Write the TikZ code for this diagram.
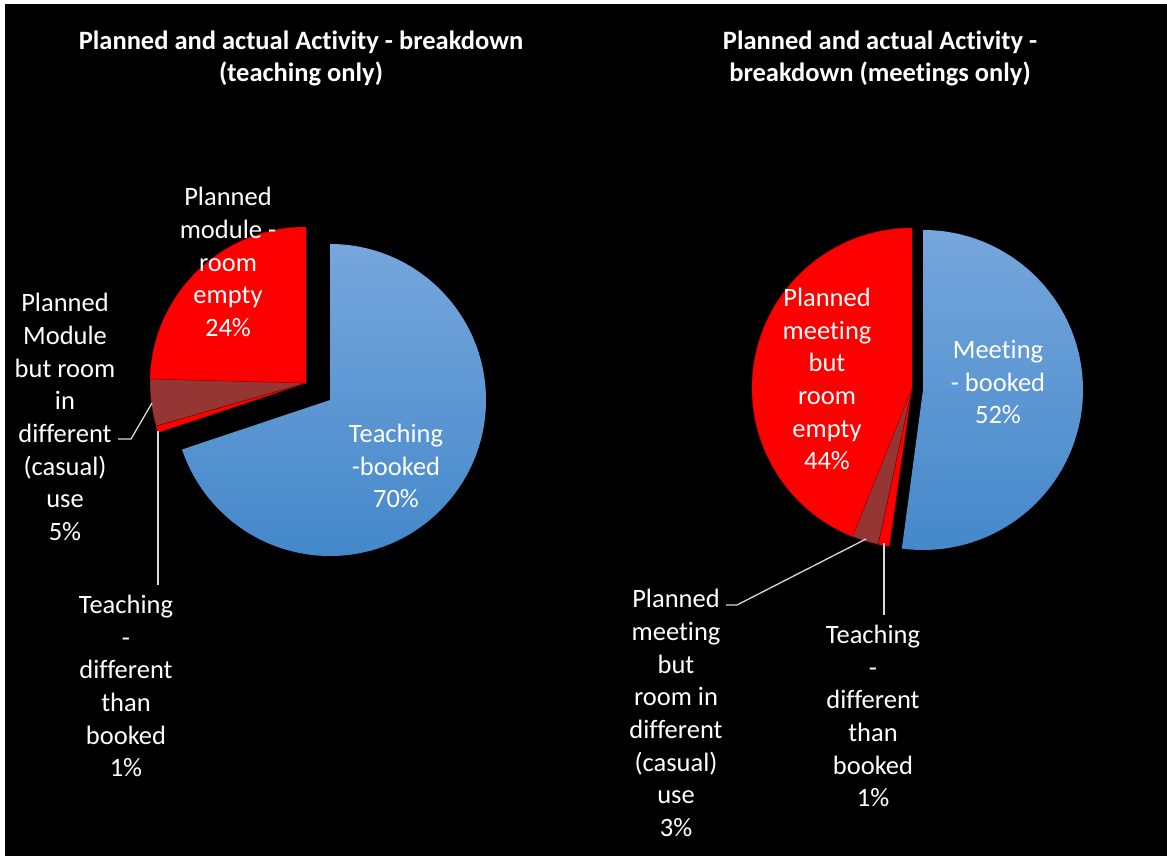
\documentclass[tikz,border=0pt]{standalone}
\usepackage{fontspec}
\setmainfont[Ligatures=NoCommon]{Carlito}
\definecolor{bluetop}{RGB}{118,166,220}
\definecolor{bluebot}{RGB}{68,136,202}
\definecolor{pred}{RGB}{255,0,0}
\definecolor{dred}{RGB}{150,54,52}
\definecolor{leader}{RGB}{217,217,217}
\newcommand{\pieslice}[5]{% center, radius, visual start angle, visual end angle, style
  \path[#5] (#1) -- ++(-#3:#2) arc[start angle=-#3, end angle=-#4, radius=#2] -- cycle;}
\tikzset{
  lbl/.style={text=white, align=center, font=\fontsize{26.5}{32.7}\selectfont, inner sep=0pt},
  ttl/.style={text=white, align=center, font=\fontsize{26.5}{32}\selectfont\bfseries, inner sep=0pt},
  bluesl/.style={top color=bluetop, bottom color=bluebot, draw=none},
  redsl/.style={fill=pred, draw=red!75!black, line width=0.4pt},
  darksl/.style={fill=dred, draw=red!40!black, line width=0.4pt},
  leaderln/.style={draw=leader, line width=1.3pt},
}
\begin{document}
\begin{tikzpicture}[x=1pt,y=-1pt]
\useasboundingbox (0,0) rectangle (1167,858);
\fill[white] (0,0) rectangle (1167,858);
\fill[black] (5,4) rectangle (1167,856);

% ---------- left pie ----------
\coordinate (LB) at (330,400);
\coordinate (LR) at (306,383);
\pieslice{LB}{156}{90}{-161.5}{bluesl}
\pieslice{LR}{156}{198.5}{196}{redsl}
\pieslice{LR}{156}{196}{178.5}{darksl}
\pieslice{LR}{156}{178.5}{90}{redsl}

% ---------- right pie ----------
\coordinate (RB) at (923,390);
\coordinate (RR) at (912,388);
\pieslice{RB}{160}{90}{-97.6}{bluesl}
\pieslice{RR}{160}{261.8}{257.8}{redsl}
\pieslice{RR}{160}{257.8}{248.2}{darksl}
\pieslice{RR}{160}{248.2}{90}{redsl}

% ---------- titles ----------
\node[ttl] (t1) at (301,58) {Planned and actual Activity - breakdown\\(teaching only)};
\node[ttl] (t2) at (880,58) {Planned and actual Activity -\\breakdown (meetings only)};

% ---------- left labels ----------
\node[lbl] (l24) at (228,262) {Planned\\module -\\room\\empty\\24\%};
\node[lbl] (l70) at (396,466) {Teaching\\-booked\\70\%};
\node[lbl] (l5) at (65,417) {Planned\\Module\\but room\\in\\different\\(casual)\\use\\5\%};
\node[lbl] (l1) at (126,686) {Teaching\\-\\different\\than\\booked\\1\%};

% ---------- right labels ----------
\node[lbl] (r44) at (827,379) {Planned\\meeting\\but\\room\\empty\\44\%};
\node[lbl] (r52) at (998,382) {Meeting\\- booked\\52\%};
\node[lbl] (r3) at (676,713) {Planned\\meeting\\but\\room in\\different\\(casual)\\use\\3\%};
\node[lbl] (r1) at (873,716) {Teaching\\-\\different\\than\\booked\\1\%};

% ---------- leader lines ----------
\coordinate (l5a) at (118,439);
\coordinate (l5b) at (131,439);
\coordinate (l5c) at (152,403);
\draw[leaderln] (l5a) -- (l5b) -- (l5c);
\coordinate (l1a) at (158,431);
\coordinate (l1b) at (158,585);
\draw[leaderln] (l1a) -- (l1b);
\coordinate (r3a) at (726,605);
\coordinate (r3b) at (737,605);
\coordinate (r3c) at (866,539);
\draw[leaderln] (r3a) -- (r3b) -- (r3c);
\coordinate (r1a) at (884,543);
\coordinate (r1b) at (884,615);
\draw[leaderln] (r1a) -- (r1b);
\end{tikzpicture}
\end{document}
